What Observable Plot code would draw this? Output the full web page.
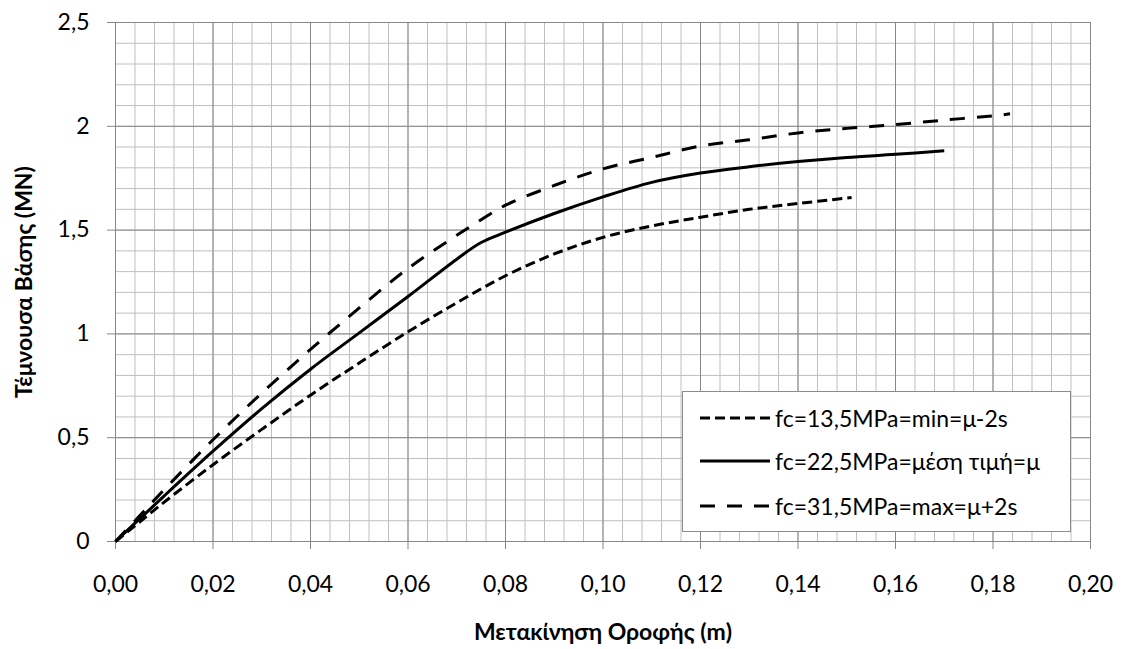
<!DOCTYPE html>
<html>
<head>
<meta charset="utf-8">
<script src="https://cdn.jsdelivr.net/npm/d3@7"></script>
<script src="https://cdn.jsdelivr.net/npm/@observablehq/plot@0.6"></script>
<style>
  html, body { margin: 0; padding: 0; background: #fff; }
  #chart { position: relative; width: 1122px; height: 649px; font-family: Lato, "Open Sans", sans-serif; }
  #chart svg [aria-label="x-axis label"], #chart svg [aria-label="y-axis label"] { font-weight: bold; }
  #legend { position: absolute; left: 682px; top: 391px; width: 389px; height: 141px; background: #fff;
            border: 1px solid #8c8c8c; box-sizing: border-box; font-size: 23px; color: #000; }
  #legend .row { position: absolute; left: 0; height: 30px; display: flex; align-items: center; white-space: nowrap; }
  #legend .row svg { margin-left: 17px; margin-right: 5px; }
</style>
</head>
<body>
<div id="chart"></div>
<script>
// ---- data ----
const seriesNames = [
  "fc=13,5MPa=min=μ-2s",
  "fc=22,5MPa=μέση τιμή=μ",
  "fc=31,5MPa=max=μ+2s"
];
const xTitle = "Μετακίνηση Οροφής (m)";
const yTitle = "Τέμνουσα Βάσης (MN)";

const xMinS = [0, 0.005, 0.01, 0.02, 0.03, 0.04, 0.05, 0.06, 0.07, 0.08, 0.09, 0.10, 0.11, 0.12, 0.13, 0.14, 0.151];
const yMinS = [0, 0.095, 0.19, 0.37, 0.54, 0.705, 0.86, 1.01, 1.15, 1.28, 1.385, 1.465, 1.52, 1.562, 1.60, 1.628, 1.657];

const xMean = [0, 0.005, 0.01, 0.02, 0.03, 0.04, 0.05, 0.06, 0.07, 0.075, 0.08, 0.09, 0.10, 0.11, 0.12, 0.13, 0.14, 0.15, 0.16, 0.17];
const yMean = [0, 0.11, 0.22, 0.435, 0.64, 0.83, 1.005, 1.18, 1.36, 1.44, 1.49, 1.58, 1.66, 1.73, 1.775, 1.805, 1.83, 1.85, 1.865, 1.882];

const xMaxS = [0, 0.005, 0.01, 0.02, 0.03, 0.04, 0.05, 0.06, 0.07, 0.075, 0.08, 0.09, 0.10, 0.11, 0.12, 0.13, 0.14, 0.15, 0.16, 0.17, 0.18, 0.1835];
const yMaxS = [0, 0.125, 0.25, 0.49, 0.715, 0.925, 1.125, 1.315, 1.475, 1.55, 1.62, 1.715, 1.795, 1.85, 1.905, 1.935, 1.968, 1.99, 2.008, 2.03, 2.05, 2.06];

const xTicks = [0, 0.02, 0.04, 0.06, 0.08, 0.10, 0.12, 0.14, 0.16, 0.18, 0.20];
const yTicks = [0, 0.5, 1, 1.5, 2, 2.5];

// ---- styles ----
const dashes = ["10,5", null, "15,12"];
const majorColor = "#878787";
const minorColor = "#bfbfbf";
const font = 'Lato, "Open Sans", sans-serif';

const xMinor = d3.range(0, 50.5, 1).map(i => i * 0.004);
const yMinor = d3.range(0, 25.5, 1).map(i => i * 0.1);

const series = [[xMinS, yMinS], [xMean, yMean], [xMaxS, yMaxS]].map(([xs, ys], k) => ({
  name: seriesNames[k],
  data: xs.map((x, i) => ({x, y: ys[i]})),
  dash: dashes[k]
}));

const fmtX = d => d.toFixed(2).replace(".", ",");
const fmtY = d => String(d).replace(".", ",");

const plot = Plot.plot({
  width: 1122,
  height: 649,
  marginLeft: 115,
  marginRight: 32,
  marginTop: 22,
  marginBottom: 108,
  style: { fontFamily: font, fontSize: "23px", background: "#fff", color: "#000" },
  x: { domain: [0, 0.2] },
  y: { domain: [0, 2.5] },
  marks: [
    Plot.gridX(xMinor, { stroke: minorColor, strokeOpacity: 1, strokeWidth: 1 }),
    Plot.gridY(yMinor, { stroke: minorColor, strokeOpacity: 1, strokeWidth: 1 }),
    Plot.gridX(xTicks, { stroke: majorColor, strokeOpacity: 1, strokeWidth: 1 }),
    Plot.gridY(yTicks, { stroke: majorColor, strokeOpacity: 1, strokeWidth: 1 }),
    Plot.axisX({ ticks: xTicks, tickFormat: fmtX, tickSize: 8, tickPadding: 26, stroke: majorColor, fill: "#000",
                 fontSize: 23, fontFamily: font,
                 label: xTitle, labelAnchor: "center", labelOffset: 98, labelArrow: "none" }),
    Plot.axisY({ ticks: yTicks, tickFormat: fmtY, tickSize: 8, tickPadding: 18, stroke: majorColor, fill: "#000",
                 fontSize: 23, fontFamily: font,
                 label: yTitle, labelAnchor: "center", labelOffset: 100, labelArrow: "none" }),
    ...series.map(s => Plot.line(s.data, {
      x: "x", y: "y", stroke: "#000", strokeWidth: 3,
      strokeDasharray: s.dash, strokeLinecap: "butt", curve: "catmull-rom"
    }))
  ]
});

const chart = document.getElementById("chart");
chart.appendChild(plot);

// ---- legend ----
const legend = d3.select(chart).append("div").attr("id", "legend");
const rowTops = [11, 54, 99];
series.forEach((s, i) => {
  const row = legend.append("div").attr("class", "row").style("top", rowTops[i] + "px");
  const svg = row.append("svg").attr("width", 70).attr("height", 10);
  svg.append("line").attr("x1", 0).attr("x2", 70).attr("y1", 5).attr("y2", 5)
    .attr("stroke", "#000").attr("stroke-width", 3).attr("stroke-dasharray", s.dash);
  row.append("span").text(s.name);
});
</script>
</body>
</html>
